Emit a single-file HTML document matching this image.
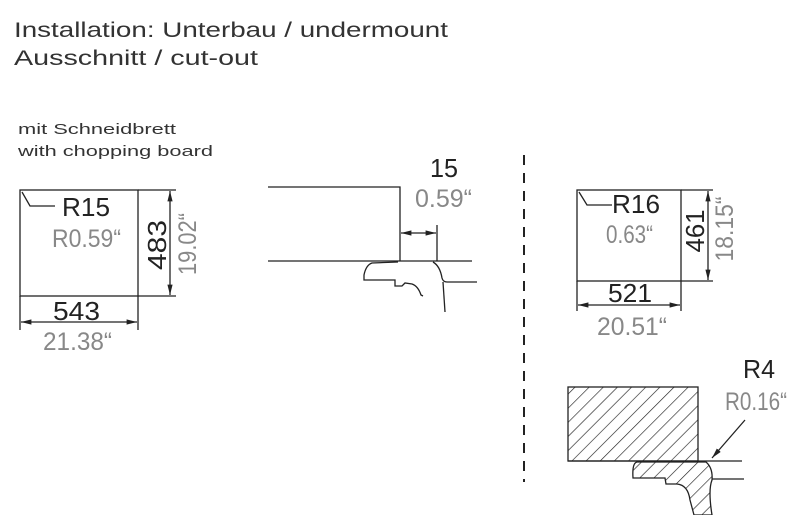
<!DOCTYPE html>
<html><head><meta charset="utf-8"><style>
html,body{margin:0;padding:0;background:#fff;}
svg{display:block;font-family:"Liberation Sans",sans-serif;}
.k{fill:#222}.g{fill:#888}
</style></head><body>
<svg width="800" height="515" viewBox="0 0 800 515" xmlns="http://www.w3.org/2000/svg">
<defs>
<pattern id="h" width="10" height="10" patternUnits="userSpaceOnUse" patternTransform="rotate(45)">
<line x1="0" y1="0" x2="0" y2="10" stroke="#222" stroke-width="1.3"/></pattern>
<marker id="a" markerWidth="8" markerHeight="6" refX="8" refY="3" orient="auto-start-reverse"><path d="M0,1 L8,3 L0,5z" fill="#222"/></marker>
</defs>
<text x="14" y="37" font-size="21" fill="#333" textLength="434" lengthAdjust="spacingAndGlyphs">Installation: Unterbau / undermount</text>
<text x="14" y="65" font-size="21" fill="#333" textLength="244" lengthAdjust="spacingAndGlyphs">Ausschnitt / cut-out</text>
<text x="18" y="134" font-size="15" fill="#333" textLength="158" lengthAdjust="spacingAndGlyphs">mit Schneidbrett</text>
<text x="18" y="156" font-size="15" fill="#333" textLength="195" lengthAdjust="spacingAndGlyphs">with chopping board</text>
<g stroke="#222" stroke-width="1.3" fill="none">
<rect x="20" y="190" width="118" height="106"/>
<path d="M22,192 L30,206 L55,206"/>
<line x1="138" y1="190" x2="176" y2="190"/><line x1="138" y1="296" x2="176" y2="296"/>
<line x1="170" y1="191" x2="170" y2="295" marker-start="url(#a)" marker-end="url(#a)"/>
<line x1="20" y1="296" x2="20" y2="330"/><line x1="138" y1="296" x2="138" y2="330"/>
<line x1="21" y1="322" x2="137" y2="322" marker-start="url(#a)" marker-end="url(#a)"/>
<path d="M268,187 L400,187 L400,261"/>
<line x1="268" y1="261" x2="472" y2="261"/>
<line x1="437" y1="225" x2="437" y2="261"/>
<line x1="401" y1="233" x2="436" y2="233" marker-start="url(#a)" marker-end="url(#a)"/>
<path d="M398,262 Q397,262 372,263 Q366,265 364,275 L364,280 L395,280 L395,286 L402,286 L405,283 L412,284 Q418,286 421,295 L423,296"/>
<path d="M433,262 Q440,266 442,278 Q443,282 447,282 L477,282"/>
<path d="M443,282 L445,312"/>
<line x1="524" y1="155" x2="524" y2="482" stroke-dasharray="10,8" stroke-width="2"/>
<rect x="577" y="190" width="104" height="91"/>
<path d="M579,192 L587,205 L612,205"/>
<line x1="681" y1="190" x2="713" y2="190"/><line x1="681" y1="281" x2="713" y2="281"/>
<line x1="708" y1="191" x2="708" y2="280" marker-start="url(#a)" marker-end="url(#a)"/>
<line x1="577" y1="281" x2="577" y2="311"/><line x1="681" y1="281" x2="681" y2="311"/>
<line x1="578" y1="305" x2="680" y2="305" marker-start="url(#a)" marker-end="url(#a)"/>
<rect x="568" y="387" width="130" height="74" fill="url(#h)"/>
<line x1="568" y1="461" x2="742" y2="461"/>
<path d="M637,462 Q632,463 633,478 L665,478 L666,484 L677,484 Q688,485 690,500 L694,515 L712,515 Q708,490 712,480 Q713,468 706,462 Z" fill="url(#h)"/>
<path d="M712,479 L744,479"/>
<line x1="745" y1="420" x2="712" y2="458" marker-end="url(#a)"/>
</g>
<g font-size="26" lengthAdjust="spacingAndGlyphs">
<text x="62" y="216" class="k" textLength="48" lengthAdjust="spacingAndGlyphs">R15</text>
<text x="52" y="247" font-size="25" class="g" textLength="69" lengthAdjust="spacingAndGlyphs">R0.59“</text>
<text transform="translate(166,245) rotate(-90)" text-anchor="middle" class="k" textLength="50" lengthAdjust="spacingAndGlyphs">483</text>
<text transform="translate(196,244) rotate(-90)" text-anchor="middle" font-size="25" class="g" textLength="62" lengthAdjust="spacingAndGlyphs">19.02“</text>
<text x="53" y="320" class="k" textLength="47" lengthAdjust="spacingAndGlyphs">543</text>
<text x="43" y="350" font-size="25" class="g" textLength="69" lengthAdjust="spacingAndGlyphs">21.38“</text>
<text x="430" y="177" class="k" textLength="28" lengthAdjust="spacingAndGlyphs">15</text>
<text x="415" y="207" font-size="25" class="g" textLength="57" lengthAdjust="spacingAndGlyphs">0.59“</text>
<text x="612" y="213" class="k" textLength="48" lengthAdjust="spacingAndGlyphs">R16</text>
<text x="606" y="243" font-size="25" class="g" textLength="47" lengthAdjust="spacingAndGlyphs">0.63“</text>
<text transform="translate(704,231) rotate(-90)" text-anchor="middle" class="k" textLength="43" lengthAdjust="spacingAndGlyphs">461</text>
<text transform="translate(733,229) rotate(-90)" text-anchor="middle" font-size="25" class="g" textLength="65" lengthAdjust="spacingAndGlyphs">18.15“</text>
<text x="608" y="302" class="k" textLength="44" lengthAdjust="spacingAndGlyphs">521</text>
<text x="597" y="335" font-size="25" class="g" textLength="70" lengthAdjust="spacingAndGlyphs">20.51“</text>
<text x="743" y="378" class="k" textLength="32" lengthAdjust="spacingAndGlyphs">R4</text>
<text x="725" y="410" font-size="25" class="g" textLength="62" lengthAdjust="spacingAndGlyphs">R0.16“</text>
</g>
</svg>
</body></html>
